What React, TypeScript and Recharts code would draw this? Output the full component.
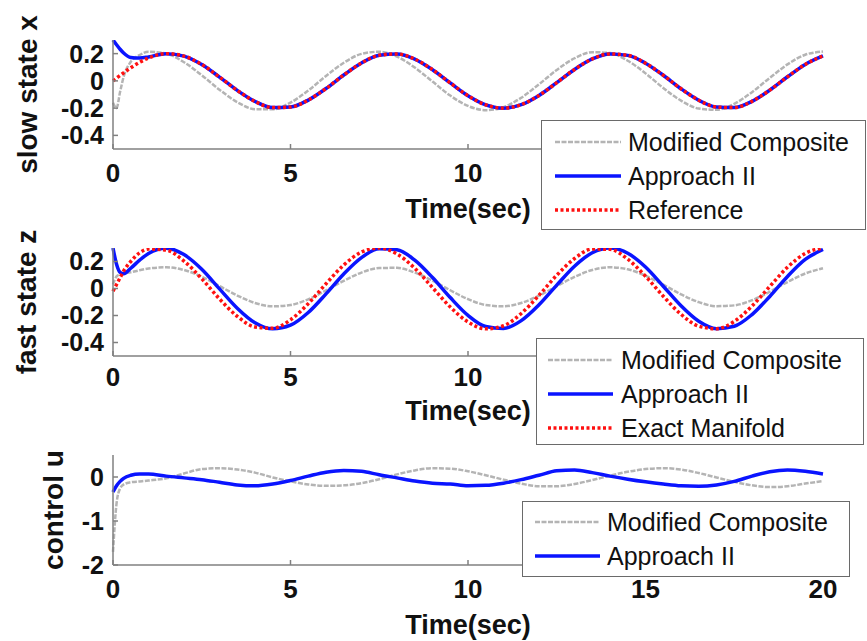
import { Legend, Line, LineChart, XAxis, YAxis } from "recharts";

const times = [
  0, 0.1, 0.2, 0.3, 0.5, 0.75, 1, 1.5, 2, 2.5, 3, 3.5, 4, 4.5, 5, 5.5, 6, 6.5, 7, 7.5, 8, 8.5, 9, 9.5, 10,
  10.5, 11, 11.5, 12, 12.5, 13, 13.5, 14, 14.5, 15, 15.5, 16, 16.5, 17, 17.5, 18, 18.5, 19, 19.5, 20,
];

// slow state x
const slowModified = [
  -0.16, -0.2, -0.08, 0.03, 0.14, 0.19, 0.213, 0.2, 0.137, 0.041, -0.065, -0.156, -0.208, -0.209, -0.159,
  -0.071, 0.036, 0.133, 0.198, 0.214, 0.178, 0.098, -0.005, -0.108, -0.184, -0.215, -0.193, -0.124, -0.025,
  0.08, 0.166, 0.211, 0.204, 0.148, 0.055, -0.052, -0.145, -0.203, -0.212, -0.168, -0.083, 0.022, 0.121,
  0.192, 0.215,
];
const slowApproach = [
  0.3, 0.265, 0.232, 0.205, 0.172, 0.168, 0.176, 0.2, 0.182, 0.12, 0.028, -0.07, -0.151, -0.196, -0.192,
  -0.141, -0.056, 0.043, 0.131, 0.188, 0.198, 0.16, 0.082, -0.015, -0.109, -0.176, -0.2, -0.175, -0.107,
  -0.013, 0.084, 0.161, 0.198, 0.187, 0.13, 0.041, -0.058, -0.142, -0.192, -0.196, -0.15, -0.068, 0.03,
  0.121, 0.183,
];
const slowReference = [
  0, 0.02, 0.04, 0.059, 0.096, 0.136, 0.168, 0.2, 0.182, 0.12, 0.028, -0.07, -0.151, -0.196, -0.192,
  -0.141, -0.056, 0.043, 0.131, 0.188, 0.198, 0.16, 0.082, -0.015, -0.109, -0.176, -0.2, -0.175, -0.107,
  -0.013, 0.084, 0.161, 0.198, 0.187, 0.13, 0.041, -0.058, -0.142, -0.192, -0.196, -0.15, -0.068, 0.03,
  0.121, 0.183,
];

// fast state z
const fastModified = [
  0.03, 0.09, 0.105, 0.11, 0.12, 0.135, 0.148, 0.157, 0.137, 0.087, 0.018, -0.052, -0.107, -0.132, -0.122,
  -0.08, -0.014, 0.057, 0.118, 0.152, 0.153, 0.118, 0.058, -0.013, -0.079, -0.122, -0.132, -0.107, -0.053,
  0.017, 0.086, 0.137, 0.157, 0.142, 0.095, 0.028, -0.043, -0.101, -0.131, -0.125, -0.087, -0.024, 0.048,
  0.111, 0.15,
];
const fastApproach = [
  0.3, 0.18, 0.12, 0.11, 0.15, 0.21, 0.26, 0.299, 0.251, 0.142, -0.003, -0.146, -0.254, -0.299, -0.272,
  -0.178, -0.04, 0.108, 0.229, 0.294, 0.287, 0.21, 0.081, -0.067, -0.199, -0.282, -0.296, -0.238, -0.121,
  0.025, 0.165, 0.265, 0.3, 0.261, 0.159, 0.017, -0.128, -0.243, -0.298, -0.28, -0.193, -0.059, 0.089,
  0.215, 0.289,
];
const fastExact = [
  -0.02, 0.03, 0.08, 0.13, 0.2, 0.265, 0.292, 0.284, 0.203, 0.072, -0.077, -0.206, -0.285, -0.295, -0.232,
  -0.112, 0.035, 0.174, 0.27, 0.3, 0.256, 0.15, 0.007, -0.137, -0.248, -0.299, -0.276, -0.185, -0.05,
  0.098, 0.222, 0.292, 0.29, 0.217, 0.091, -0.057, -0.191, -0.279, -0.298, -0.244, -0.13, 0.015, 0.157,
  0.26, 0.3,
];

// control u
const controlModified = [
  -1.7, -0.6, -0.26, -0.17, -0.12, -0.1, -0.08, -0.03, 0.08, 0.18, 0.2, 0.17, 0.1, -0.01, -0.1, -0.17, -0.2,
  -0.19, -0.14, -0.05, 0.06, 0.15, 0.2, 0.19, 0.13, 0.04, -0.06, -0.15, -0.21, -0.21, -0.16, -0.07, 0.03,
  0.12, 0.18, 0.2, 0.17, 0.09, -0.01, -0.11, -0.19, -0.23, -0.21, -0.15, -0.09,
];
const controlApproach = [
  -0.34, -0.2, -0.1, -0.03, 0.04, 0.07, 0.07, 0.02, -0.02, -0.06, -0.12, -0.18, -0.2, -0.16, -0.08, 0.02,
  0.11, 0.15, 0.13, 0.05, -0.02, -0.09, -0.14, -0.16, -0.2, -0.19, -0.14, -0.06, 0.04, 0.14, 0.16, 0.1,
  0.02, -0.05, -0.11, -0.16, -0.2, -0.21, -0.18, -0.1, 0.02, 0.12, 0.16, 0.13, 0.07,
];

// the 15 and 20 labels of the two upper panels sit under their legends
const stateXTicks = [0, 5, 10];
const controlXTicks = [0, 5, 10, 15, 20];
const stateTicks = [-0.4, -0.2, 0, 0.2];
const controlTicks = [-2, -1, 0];

const FONT = "'Liberation Sans', Arial, Helvetica, sans-serif";
const GRAY = "#b4b4b4";
const BLUE = "#0a14ff";
const RED = "#ff1010";
const AXIS = "#808080";

const table = (cols: Record<string, number[]>) =>
  times.map((t, i) => {
    const row: Record<string, number> = { t };
    for (const k of Object.keys(cols)) row[k] = cols[k][i];
    return row;
  });

type Item = { label: string; color: string; kind: "gray" | "blue" | "red" };

const widthOf = (k: Item["kind"]) => (k === "gray" ? 2.5 : 3.5);
const dashOf = (k: Item["kind"]) => (k === "gray" ? "5 1.5" : k === "red" ? "3 2.5" : undefined);

function LegendBox({ items, width, height, rowTop, lineX, textX }: {
  items: Item[]; width: number; height: number; rowTop: number; lineX: [number, number]; textX: number;
}) {
  return (
    <svg width={width} height={height} style={{ display: "block" }}>
      <rect x={0.5} y={0.5} width={width - 1} height={height - 1} fill="#fff" stroke="#6a6a6a" />
      {items.map((it, i) => {
        const cy = rowTop + i * 34;
        return (
          <g key={it.label}>
            <line x1={lineX[0]} x2={lineX[1]} y1={cy} y2={cy} stroke={it.color}
              strokeWidth={widthOf(it.kind)} strokeDasharray={dashOf(it.kind)} />
            <text x={textX} y={cy} dominantBaseline="central" fontSize={25} fontFamily={FONT} fill="#111">
              {it.label}
            </text>
          </g>
        );
      })}
    </svg>
  );
}

const xTitle = (offset: number) => (props: any) => {
  const vb = props.viewBox;
  const cx = vb.x + vb.width / 2;
  return (
    <text x={cx} y={vb.y + offset} textAnchor="middle" dominantBaseline="central"
      fontSize={27} fontWeight="bold" fontFamily={FONT} fill="#111">
      Time(sec)
    </text>
  );
};

const yTitle = (text: string, cx: number) => (props: any) => {
  const vb = props.viewBox;
  const cy = vb.y + vb.height / 2;
  return (
    <text x={cx} y={cy} transform={`rotate(-90 ${cx} ${cy})`} textAnchor="middle" dominantBaseline="central"
      fontSize={28} fontWeight="bold" fontFamily={FONT} fill="#111">
      {text}
    </text>
  );
};

const xTickStyle = { fontSize: 26, fontWeight: "bold", fill: "#111", fontFamily: FONT };
const yTickStyle = { fontSize: 25, fontWeight: "bold", fill: "#111", fontFamily: FONT };

function Panel({ top, height, marginTop, domain, xTicks, yTicks, yLabel, yLabelX, tickGap, titleOffset, data, keys, legend }: {
  top: number; height: number; marginTop: number; domain: [number, number]; xTicks: number[]; yTicks: number[];
  yLabel: string; yLabelX: number; tickGap: number; titleOffset: number; data: Record<string, number>[];
  keys: Item[]; legend: { left: number; top: number; width: number; height: number; rowTop: number; lineX: [number, number]; textX: number };
}) {
  return (
    <div style={{ position: "absolute", left: 0, top }}>
      <LineChart width={867} height={height} data={data} margin={{ top: marginTop, right: 44, bottom: 6, left: 0 }}>
        <XAxis
          dataKey="t" type="number" domain={[0, 20]} ticks={xTicks} interval={0} height={70}
          stroke={AXIS} strokeWidth={1.5} tickSize={-5} tickMargin={tickGap} tick={xTickStyle}
          label={xTitle(titleOffset)}
        />
        <YAxis
          type="number" domain={domain} ticks={yTicks} interval={0} width={113} allowDataOverflow
          stroke={AXIS} strokeWidth={1.5} tickSize={-5} tickMargin={14} tick={yTickStyle}
          label={yTitle(yLabel, yLabelX)}
        />
        {keys.map((k) => (
          <Line
            key={k.label}
            dataKey={k.label}
            type="monotone"
            stroke={k.color}
            strokeWidth={widthOf(k.kind)}
            strokeDasharray={dashOf(k.kind)}
            dot={false}
            activeDot={false}
            isAnimationActive={false}
          />
        ))}
        <Legend
          layout="vertical" align="center" verticalAlign="middle"
          wrapperStyle={{ left: legend.left, top: legend.top, width: legend.width, height: legend.height }}
          content={() => (
            <LegendBox items={keys} width={legend.width} height={legend.height}
              rowTop={legend.rowTop} lineX={legend.lineX} textX={legend.textX} />
          )}
        />
      </LineChart>
    </div>
  );
}

const slowItems: Item[] = [
  { label: "Modified Composite", color: GRAY, kind: "gray" },
  { label: "Approach II", color: BLUE, kind: "blue" },
  { label: "Reference", color: RED, kind: "red" },
];
const fastItems: Item[] = [
  { label: "Modified Composite", color: GRAY, kind: "gray" },
  { label: "Approach II", color: BLUE, kind: "blue" },
  { label: "Exact Manifold", color: RED, kind: "red" },
];
const controlItems: Item[] = [
  { label: "Modified Composite", color: GRAY, kind: "gray" },
  { label: "Approach II", color: BLUE, kind: "blue" },
];

export default function App() {
  const slowData = table({ "Modified Composite": slowModified, "Approach II": slowApproach, Reference: slowReference });
  const fastData = table({ "Modified Composite": fastModified, "Approach II": fastApproach, "Exact Manifold": fastExact });
  const controlData = table({ "Modified Composite": controlModified, "Approach II": controlApproach });

  return (
    <div style={{ position: "absolute", left: 0, top: 0, width: 867, height: 641, background: "#fff" }}>
      <Panel
        top={0} height={225} marginTop={40} domain={[-0.5, 0.3]} xTicks={stateXTicks} yTicks={stateTicks}
        yLabel="slow state x" yLabelX={27} tickGap={20} titleOffset={60} data={slowData} keys={slowItems}
        legend={{ left: 541, top: 120, width: 325, height: 110, rowTop: 22, lineX: [14, 80], textX: 87 }}
      />
      <Panel
        top={200} height={232} marginTop={48} domain={[-0.5, 0.3]} xTicks={stateXTicks} yTicks={stateTicks}
        yLabel="fast state z" yLabelX={26} tickGap={17} titleOffset={55} data={fastData} keys={fastItems}
        legend={{ left: 536, top: 138, width: 328, height: 107, rowTop: 22, lineX: [12, 77], textX: 85 }}
      />
      <Panel
        top={410} height={231} marginTop={45} domain={[-2, 0.5]} xTicks={controlXTicks} yTicks={controlTicks}
        yLabel="control u" yLabelX={53} tickGap={20} titleOffset={60} data={controlData} keys={controlItems}
        legend={{ left: 522, top: 91, width: 328, height: 76, rowTop: 21, lineX: [13, 78], textX: 85 }}
      />
    </div>
  );
}
